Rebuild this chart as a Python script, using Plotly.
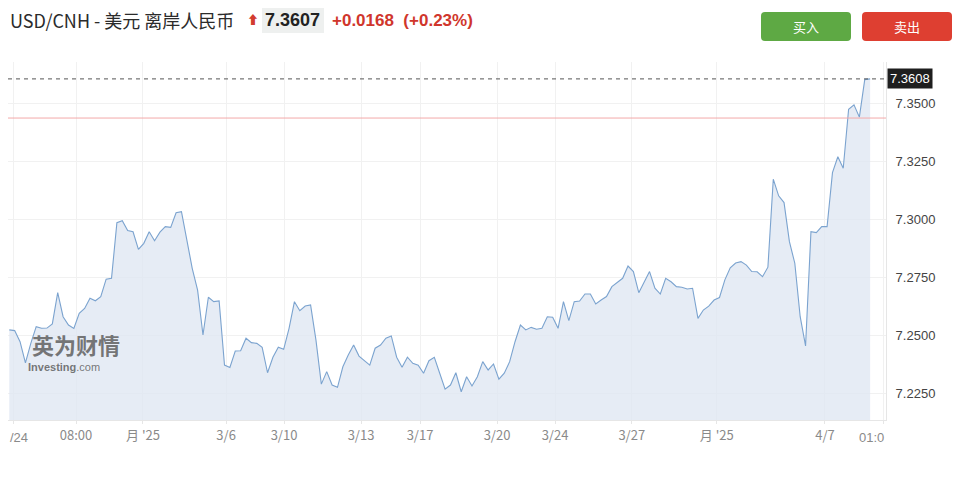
import plotly.graph_objects as go

# ---- data ----
prices = [
    7.2524, 7.2521, 7.2473, 7.2382, 7.2466, 7.2538, 7.2531, 7.2532, 7.2550, 7.2685,
    7.2581, 7.2545, 7.2530, 7.2596, 7.2617, 7.2661, 7.2650, 7.2668, 7.2743, 7.2747,
    7.2987, 7.2996, 7.2953, 7.2948, 7.2872, 7.2898, 7.2948, 7.2909, 7.2946, 7.2970,
    7.2967, 7.3030, 7.3035, 7.2912, 7.2790, 7.2696, 7.2502, 7.2665, 7.2646, 7.2649,
    7.2372, 7.2362, 7.2433, 7.2434, 7.2488, 7.2469, 7.2466, 7.2449, 7.2339, 7.2406,
    7.2449, 7.2440, 7.2531, 7.2646, 7.2607, 7.2627, 7.2632, 7.2480, 7.2290, 7.2344,
    7.2286, 7.2276, 7.2365, 7.2416, 7.2459, 7.2411, 7.2391, 7.2372, 7.2445, 7.2459,
    7.2488, 7.2498, 7.2406, 7.2363, 7.2406, 7.2380, 7.2372, 7.2337, 7.2391, 7.2406,
    7.2337, 7.2268, 7.2286, 7.2339, 7.2257, 7.2322, 7.2282, 7.2322, 7.2387, 7.2351,
    7.2377, 7.2311, 7.2337, 7.2387, 7.2473, 7.2545, 7.2524, 7.2535, 7.2527, 7.2531,
    7.2581, 7.2579, 7.2531, 7.2646, 7.2564, 7.2646, 7.2649, 7.2679, 7.2679, 7.2636,
    7.2653, 7.2668, 7.2711, 7.2728, 7.2747, 7.2800, 7.2776, 7.2685, 7.2732, 7.2776,
    7.2704, 7.2679, 7.2747, 7.2732, 7.2711, 7.2708, 7.2701, 7.2704, 7.2574, 7.2610,
    7.2627, 7.2653, 7.2664, 7.2740, 7.2792, 7.2813, 7.2819, 7.2804, 7.2776, 7.2775,
    7.2754, 7.2795, 7.3175, 7.3103, 7.3074, 7.2905, 7.2812, 7.2581, 7.2455, 7.2948,
    7.2944, 7.2970, 7.2970, 7.3203, 7.3272, 7.3222, 7.3477, 7.3496, 7.3443, 7.3605,
    7.3608,
]
x_tick_labels = ["", "08:00", "月 '25", "3/6", "3/10", "3/13", "3/17",
                 "3/20", "3/24", "3/27", "月 '25", "4/7", ""]
x_tick_pos = [0.87, 12.4, 24.85, 40.3, 51.06, 65.37, 76.34,
              90.65, 101.43, 115.7, 131.5, 151.6, 162.4]
first_x_label = "/24"   # clipped label at the left edge
last_x_label = "01:0"   # clipped label at the right edge
y_tick_vals = [7.225, 7.25, 7.275, 7.30, 7.325, 7.35]
y_tick_text = ["7.2250", "7.2500", "7.2750", "7.3000", "7.3250", "7.3500"]
last_price = 7.3608
prev_close = 7.3439
header_title = "USD/CNH - 美元 离岸人民币"
header_price = "7.3607"
header_change = "+0.0168  (+0.23%)"

# ---- layout helpers (page body has an 8px margin; compensate) ----
OFF = 8
W, H = 960 - OFF, 478 - OFF
L, R, T, B = 8 - OFF, 74, 62 - OFF, 58
PW, PH = W - L - R, H - T - B


def px(xp):
    return (xp - OFF - L) / PW


def py(yp):
    return (H - B - (yp - OFF)) / PH


FONT = "Liberation Sans, Noto Sans CJK SC, sans-serif"
CJK = "Noto Sans CJK SC, Liberation Sans, sans-serif"

xs = list(range(len(prices)))

fig = go.Figure()
fig.add_trace(go.Scatter(
    x=xs, y=prices, mode="lines",
    line=dict(color="#7ba3cf", width=1.1),
    fill="tozeroy", fillcolor="rgba(222,230,242,0.75)",
    hoverinfo="skip", showlegend=False,
))

shapes = [
    dict(type="line", xref="paper", yref="y", x0=0, x1=1, y0=prev_close, y1=prev_close,
         line=dict(color="#f3a9a9", width=1)),
    dict(type="line", xref="paper", yref="y", x0=0, x1=1, y0=last_price, y1=last_price,
         line=dict(color="#555555", width=1, dash="4px,4px")),
]


def rounded(x0, y0, x1, y1, r, color):
    def P(a, b):
        return f"{px(a):.5f},{py(b):.5f}"
    path = (f"M {P(x0 + r, y0)} L {P(x1 - r, y0)} Q {P(x1, y0)} {P(x1, y0 + r)} "
            f"L {P(x1, y1 - r)} Q {P(x1, y1)} {P(x1 - r, y1)} "
            f"L {P(x0 + r, y1)} Q {P(x0, y1)} {P(x0, y1 - r)} "
            f"L {P(x0, y0 + r)} Q {P(x0, y0)} {P(x0 + r, y0)} Z")
    return dict(type="path", xref="paper", yref="paper", path=path,
                fillcolor=color, line=dict(width=0), layer="above")


shapes.append(rounded(761, 12, 851, 41, 4, "#5ea944"))
shapes.append(rounded(862, 12, 952, 41, 4, "#de3f31"))
shapes.append(dict(type="rect", xref="paper", yref="paper",
                   x0=px(262), x1=px(324), y0=py(33), y1=py(8),
                   fillcolor="#eef0ef", line=dict(width=0), layer="below"))

annotations = [
    dict(xref="paper", yref="paper", x=px(8), y=py(20), xanchor="left", yanchor="middle",
         text=header_title, showarrow=False, font=dict(family=CJK, size=18, color="#2b2b2b")),
    dict(xref="paper", yref="paper", x=px(253), y=py(21), xanchor="center", yanchor="middle",
         text="⬆", showarrow=False, font=dict(family=FONT, size=12, color="#d23c2f")),
    dict(xref="paper", yref="paper", x=px(263), y=py(20), xanchor="left", yanchor="middle",
         text=f"<b>{header_price}</b>", showarrow=False,
         font=dict(family=FONT, size=18, color="#222222")),
    dict(xref="paper", yref="paper", x=px(330), y=py(20), xanchor="left", yanchor="middle",
         text=f"<b>{header_change}</b>", showarrow=False,
         font=dict(family=FONT, size=17, color="#d0362c")),
    dict(xref="paper", yref="paper", x=px(806), y=py(26.5), xanchor="center", yanchor="middle",
         text="买入", showarrow=False, font=dict(family=CJK, size=13, color="white")),
    dict(xref="paper", yref="paper", x=px(907), y=py(26.5), xanchor="center", yanchor="middle",
         text="卖出", showarrow=False, font=dict(family=CJK, size=13, color="white")),
    dict(xref="paper", yref="y", x=1, y=last_price, xanchor="left", yanchor="middle",
         xshift=1, text=f"{last_price:.4f}", showarrow=False, bgcolor="#1e1e1e",
         borderpad=2, font=dict(family=FONT, size=13, color="white")),
    dict(xref="paper", yref="paper", x=px(8), y=py(437), xanchor="left", yanchor="middle",
         text=first_x_label, showarrow=False, font=dict(family=FONT, size=13, color="#8a8a8a")),
    dict(xref="paper", yref="paper", x=1, y=py(437), xanchor="right", yanchor="middle",
         text=last_x_label, showarrow=False, font=dict(family=FONT, size=13, color="#8a8a8a")),
    dict(xref="paper", yref="paper", x=px(30), y=py(344), xanchor="left", yanchor="middle",
         text="<b>英为财情</b>", showarrow=False,
         font=dict(family=CJK, size=22, color="rgba(95,95,95,0.85)")),
    dict(xref="paper", yref="paper", x=px(26), y=py(367), xanchor="left", yanchor="middle",
         text="<b>Investing</b>.com", showarrow=False,
         font=dict(family=FONT, size=11, color="rgba(95,95,95,0.85)")),
]

fig.update_layout(
    width=W, height=H,
    margin=dict(l=L, r=R, t=T, b=B, pad=0),
    paper_bgcolor="white", plot_bgcolor="white",
    font=dict(family=FONT, size=13, color="#444444"),
    showlegend=False,
    shapes=shapes,
    annotations=annotations,
    xaxis=dict(
        range=[-0.24, 162.95], tickmode="array", tickvals=x_tick_pos, ticktext=x_tick_labels,
        showgrid=True, gridcolor="#f1f1f1", gridwidth=1, zeroline=False,
        showline=True, linecolor="#e6e6e6", linewidth=1,
        ticks="outside", ticklen=3, tickcolor="#e6e6e6",
        tickfont=dict(family=CJK, size=13, color="#8a8a8a"), fixedrange=True,
    ),
    yaxis=dict(
        range=[7.2135, 7.3681], side="right", tickmode="array",
        tickvals=y_tick_vals, ticktext=y_tick_text,
        showgrid=True, gridcolor="#f1f1f1", gridwidth=1, zeroline=False,
        showline=True, linecolor="#e6e6e6", linewidth=1, ticks="",
        ticklabelstandoff=6,
        tickfont=dict(family=FONT, size=13, color="#444444"), fixedrange=True,
    ),
)

fig.write_html("out.html", config={"displayModeBar": False})
